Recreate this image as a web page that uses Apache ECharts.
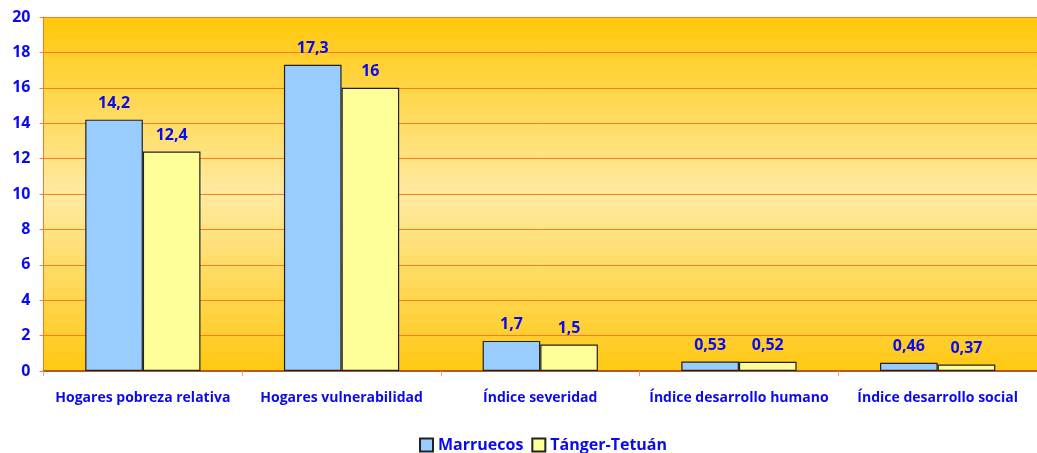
<!DOCTYPE html>
<html>
<head>
<meta charset="utf-8">
<script src="https://cdn.jsdelivr.net/npm/echarts@6/dist/echarts.min.js"></script>
<style>
  html, body { margin: 0; padding: 0; background: #fff; }
  #container { width: 1037px; height: 453px; }
</style>
</head>
<body>
<div id="container"></div>
<script>
var categories = ['Hogares pobreza relativa', 'Hogares vulnerabilidad', 'Índice severidad', 'Índice desarrollo humano', 'Índice desarrollo social'];
var marruecos = [14.2, 17.3, 1.7, 0.53, 0.46];
var tangerTetuan = [12.4, 16, 1.5, 0.52, 0.37];
var seriesNames = ['Marruecos', 'Tánger-Tetuán'];

var blue = '#0a0aee';
var font = '"Open Sans", "Noto Sans", sans-serif';

function comma(p) {
    return String(p.value).replace('.', ',');
}

var dom = document.getElementById('container');
var myChart = echarts.init(dom);
var option = {
    animation: false,
    textStyle: { fontFamily: font },
    legend: {
        top: 432,
        left: 414,
        itemWidth: 13,
        itemHeight: 13,
        itemGap: 8,
        icon: 'rect',
        textStyle: { color: blue, fontWeight: 'bold', fontSize: 16, fontFamily: font },
        data: seriesNames
    },
    grid: {
        left: 43.5,
        right: -6,
        top: 17,
        bottom: 82,
        show: true,
        borderWidth: 0,
        backgroundColor: new echarts.graphic.LinearGradient(0, 0, 0, 1, [
            { offset: 0, color: '#ffc80a' },
            { offset: 0.5, color: '#ffeaa2' },
            { offset: 1, color: '#ffc812' }
        ])
    },
    xAxis: {
        type: 'category',
        data: categories,
        axisLine: { lineStyle: { color: '#b25a26', width: 2 } },
        axisTick: { show: true, length: 5, lineStyle: { color: '#ff9a55' } },
        axisLabel: { interval: 0, hideOverlap: false, color: blue, fontWeight: 'bold', fontSize: 14, margin: 20, fontFamily: font }
    },
    yAxis: {
        type: 'value',
        min: 0,
        max: 20,
        interval: 2,
        axisLine: { show: true, lineStyle: { color: '#ff7a1a' } },
        axisTick: { show: true, length: 4, lineStyle: { color: '#ff7a1a' } },
        axisLabel: { color: blue, fontWeight: 'bold', fontSize: 16, margin: 13, fontFamily: font },
        splitLine: { lineStyle: { color: '#ff7a1a', width: 1 } }
    },
    series: [
        {
            name: seriesNames[0],
            type: 'bar',
            data: marruecos,
            barGap: '0%',
            barCategoryGap: '42%',
            itemStyle: { color: '#99ccff', borderColor: '#222', borderWidth: 1.2 },
            label: { show: true, position: 'top', distance: 8, color: blue, fontWeight: 'bold', fontSize: 16, fontFamily: font, formatter: comma }
        },
        {
            name: seriesNames[1],
            type: 'bar',
            data: tangerTetuan,
            itemStyle: { color: '#ffff99', borderColor: '#222', borderWidth: 1.2 },
            label: { show: true, position: 'top', distance: 8, color: blue, fontWeight: 'bold', fontSize: 16, fontFamily: font, formatter: comma }
        }
    ]
};
myChart.setOption(option);
</script>
</body>
</html>
